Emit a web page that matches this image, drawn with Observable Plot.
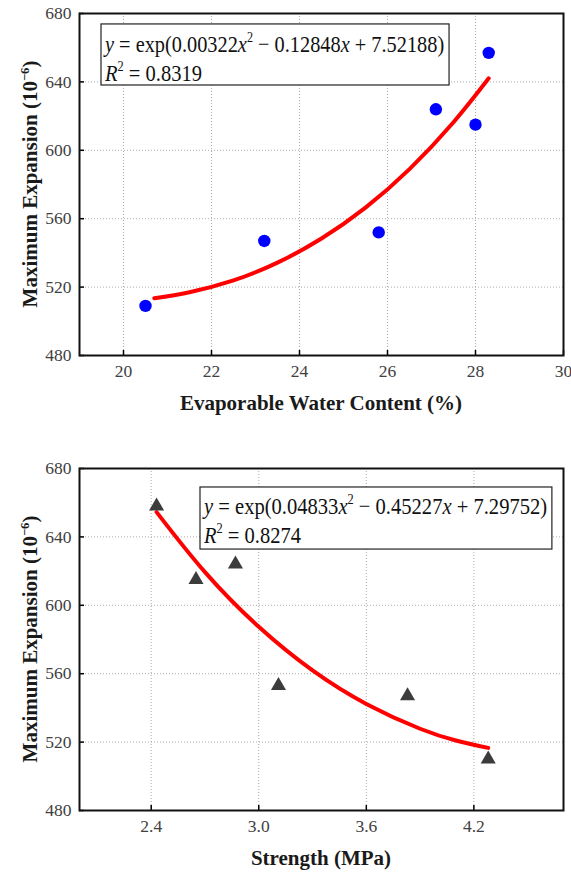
<!DOCTYPE html>
<html><head><meta charset="utf-8">
<script src="https://cdn.jsdelivr.net/npm/d3@7"></script>
<script src="https://cdn.jsdelivr.net/npm/@observablehq/plot@0.6"></script>
<style>
html,body{margin:0;padding:0;background:#fff;}
#chart svg{display:block;}
</style></head><body><div id="chart"></div>
<script>
// ---- data ----
const waterContent = [20.5, 23.2, 25.8, 27.1, 28.0, 28.3];
const expansionA   = [509, 547, 552, 624, 615, 657];
const strength     = [2.43, 2.65, 2.87, 3.11, 3.83, 4.28];
const expansionB   = [658, 615, 624, 553, 547, 510];
// fitted curves
const fitAx = [20.7, 21.5, 22.5, 23.5, 24.5, 25.5, 26.5, 27.5, 28.3];
const fitAy = [513.5, 517.0, 523.9, 534.3, 548.4, 566.5, 589.0, 616.4, 642.1];
const fitBx = [2.43, 2.7, 3.0, 3.3, 3.6, 3.9, 4.1, 4.28];
const fitBy = [654.5, 619.4, 587.4, 561.9, 542.3, 527.8, 520.9, 516.6];
// tick labels
const xTicksA = [20, 22, 24, 26, 28, 30];
const xTicksB = [2.4, 3.0, 3.6, 4.2];
const yTicks  = [480, 520, 560, 600, 640, 680];
// texts
const coefA = ["0.00322", "0.12848", "7.52188"], r2A = "0.8319";
const coefB = ["0.04833", "0.45227", "7.29752"], r2B = "0.8274";
const yTitle = ["Maximum Expansion (10", "\u22126", ")"];
const xTitleA = "Evaporable Water Content (%)";
const xTitleB = "Strength (MPa)";

const SERIF = "'Liberation Serif','Times New Roman',Times,serif";
const W = 571, ML = 79, MR = 8;

function panel(cfg) {
  const frameH = cfg.height - cfg.marginTop - cfg.marginBottom;
  const frameW = W - ML - MR;
  const pts = cfg.xs.map((x, i) => ({x, y: cfg.ys[i]}));
  const fit = cfg.fitX.map((x, i) => ({x, y: cfg.fitY[i]}));
  const grid = {stroke: "#a0a0a0", strokeOpacity: 1, strokeWidth: 0.9, strokeDasharray: "1,2"};
  const axisText = {fontFamily: SERIF, fontSize: 17.5, fill: "#404040"};
  return Plot.plot({
    width: W, height: cfg.height,
    marginTop: cfg.marginTop, marginBottom: cfg.marginBottom, marginLeft: ML, marginRight: MR,
    style: {fontFamily: SERIF, fontSize: "17.5px", color: "#404040", background: "#fff", overflow: "visible"},
    x: {domain: cfg.xDomain},
    y: {domain: [480, 680]},
    marks: [
      Plot.gridX(cfg.xTicks, grid),
      Plot.gridY(yTicks, grid),
      Plot.axisX(cfg.xTicks, {tickSize: 0, tickPadding: 9, tickFormat: cfg.fmt, label: null, ...axisText}),
      Plot.axisY(yTicks, {tickSize: 0, tickPadding: 8, tickFormat: d3.format("d"), label: null, ...axisText}),
      Plot.tickX(cfg.xTicks, {x: d => d, insetTop: frameH - 5, stroke: "#000", strokeWidth: 1.5}),
      Plot.tickY(yTicks, {y: d => d, insetRight: frameW - 5, stroke: "#000", strokeWidth: 1.5}),
      Plot.line(fit, {x: "x", y: "y", stroke: "#ff0000", strokeWidth: 4, curve: "natural"}),
      Plot.dot(pts, {x: "x", y: "y", symbol: cfg.symbol, r: cfg.r, fill: cfg.fill, stroke: "none"}),
      Plot.frame({stroke: "#111", strokeWidth: 2})
    ]
  });
}

function richText(parent, parts, size, opts = {}) {
  const t = parent.append("text").attr("font-size", size).attr("fill", opts.fill || "#111")
    .style("font-family", SERIF).attr("text-anchor", opts.anchor || "start");
  if (opts.bold) t.attr("font-weight", "bold");
  for (const p of parts) {
    const s = t.append("tspan").text(p.t);
    if (p.i) s.attr("font-style", "italic");
    if (p.sup) s.attr("font-size", size * 0.6).attr("dy", -size * 0.42);
    if (p.down) s.attr("dy", size * 0.42);
  }
  return t;
}

function fitWidth(t, target) {
  const w = t.node().getBBox().width;
  return w > 0 ? target / w : 1;
}

function annotate(chart, cfg) {
  const svg = d3.select(chart);
  // make sure every axis label uses the serif face
  svg.selectAll("text").style("font-family", SERIF);
  const sx = chart.scale("x"), sy = chart.scale("y");
  const g = svg.append("g").attr("text-anchor", "start");
  // equation box
  const x1 = sx.apply(cfg.box[0]), x2 = sx.apply(cfg.box[1]);
  const y1 = sy.apply(cfg.box[2]), y2 = sy.apply(cfg.box[3]);
  g.append("rect").attr("x", x1).attr("y", y1).attr("width", x2 - x1).attr("height", y2 - y1)
    .attr("fill", "#fff").attr("stroke", "#222").attr("stroke-width", 1.2);
  const c = cfg.coef;
  const l1 = richText(g, [
    {t: "y", i: 1}, {t: " = exp(" + c[0]}, {t: "x", i: 1}, {t: "2", sup: 1},
    {t: " \u2212 " + c[1], down: 1}, {t: "x", i: 1}, {t: " + " + c[2] + ")"}
  ], 24);
  const s1 = fitWidth(l1, cfg.line1W);
  l1.attr("transform", `translate(${x1 + 4},${y1 + cfg.base[0]}) scale(${s1},1)`);
  const l2 = richText(g, [{t: "R", i: 1}, {t: "2", sup: 1}, {t: " = " + cfg.r2, down: 1}], 24);
  const s2 = fitWidth(l2, cfg.line2W);
  l2.attr("transform", `translate(${x1 + 4},${y1 + cfg.base[1]}) scale(${s2},1)`);

  // axis titles
  const fx = (ML + (W - MR)) / 2;
  const fy = (cfg.marginTop + (cfg.height - cfg.marginBottom)) / 2;
  const xt = richText(g, [{t: cfg.xTitle}], 21, {bold: 1, anchor: "middle", fill: "#1a1a1a"});
  xt.attr("transform", `translate(${fx},${cfg.height - cfg.marginBottom + 48})`).attr("dy", "0.35em");
  const yt = richText(g, [{t: yTitle[0]}, {t: yTitle[1], sup: 1}, {t: yTitle[2], down: 1}], 21,
    {bold: 1, anchor: "middle", fill: "#1a1a1a"});
  yt.attr("transform", `translate(${30},${fy}) rotate(-90)`).attr("dy", "0.35em");
}

const root = document.getElementById("chart");

const cfgA = {
  xs: waterContent, ys: expansionA, fitX: fitAx, fitY: fitAy,
  xDomain: [19, 30], xTicks: xTicksA, fmt: d3.format("d"),
  height: 420, marginTop: 13, marginBottom: 65,
  symbol: "circle", r: 6.2, fill: "#0000ff",
  coef: coefA, r2: r2A, xTitle: xTitleA,
  box: [19.5, 27.41, 673.6, 637.9], base: [28, 57], line1W: 341, line2W: 98
};
const cfgB = {
  xs: strength, ys: expansionB, fitX: fitBx, fitY: fitBy,
  xDomain: [2.0, 4.7], xTicks: xTicksB, fmt: d3.format(".1f"),
  height: 453, marginTop: 48, marginBottom: 63,
  symbol: "triangle", r: 5.6, fill: "#3c3c3c",
  coef: coefB, r2: r2B, xTitle: xTitleB,
  box: [2.675, 4.638, 668.9, 632.6], base: [27, 56], line1W: 345, line2W: 98
};

for (const cfg of [cfgA, cfgB]) {
  const chart = panel(cfg);
  root.appendChild(chart);
  annotate(chart, cfg);
}
</script>
</body></html>
